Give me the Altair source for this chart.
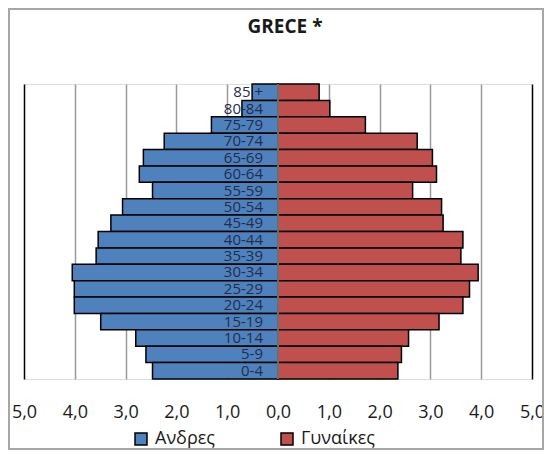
import altair as alt
import pandas as pd

ages = ["85 +", "80-84", "75-79", "70-74", "65-69", "60-64", "55-59", "50-54", "45-49",
        "40-44", "35-39", "30-34", "25-29", "20-24", "15-19", "10-14", "5-9", "0-4"]
male = [0.51, 0.71, 1.31, 2.24, 2.65, 2.73, 2.47, 3.06, 3.29,
        3.54, 3.58, 4.05, 4.01, 4.01, 3.49, 2.80, 2.60, 2.47]
female = [0.81, 1.02, 1.72, 2.74, 3.04, 3.12, 2.65, 3.22, 3.25,
          3.64, 3.60, 3.94, 3.77, 3.64, 3.17, 2.57, 2.43, 2.36]
sexes = ["Ανδρες", "Γυναίκες"]
colors = ["#4F81BD", "#C0504D"]
x_ticks = [-5, -4, -3, -2, -1, 0, 1, 2, 3, 4, 5]
title_text = "GRECE *"

rows = []
for a, m, f in zip(ages, male, female):
    rows.append({"age": a, "sex": sexes[0], "value": m, "signed": -m})
    rows.append({"age": a, "sex": sexes[1], "value": f, "signed": f})
df = pd.DataFrame(rows)
age_df = pd.DataFrame({"age": ages})
zero_df = pd.DataFrame({"v": [0]})
title_df = pd.DataFrame({"t": [title_text]})

FONT = "Open Sans"

xscale = alt.Scale(domain=[-5, 5], nice=False)
yscale = alt.Scale(domain=ages, paddingInner=0, paddingOuter=0)

bars = alt.Chart(df).mark_bar(stroke="black", strokeWidth=1.5).encode(
    x=alt.X("signed:Q", scale=xscale,
            axis=alt.Axis(values=x_ticks, title=None, domain=False, ticks=False, tickSize=0,
                          labelPadding=24, labelFlush=False, labelFont=FONT, labelFontSize=18,
                          labelColor="#1a1a1a", grid=True, gridWidth=1.5,
                          gridColor=alt.condition("abs(datum.value) == 5",
                                                  alt.value("black"), alt.value("#9a9a9a")),
                          labelExpr="replace(format(abs(datum.value), '.1f'), '.', ',')")),
    y=alt.Y("age:N", scale=yscale, sort=ages, axis=None),
    color=alt.Color("sex:N", scale=alt.Scale(domain=sexes, range=colors),
                    legend=alt.Legend(title=None, orient="none", legendX=108, legendY=346,
                                      direction="horizontal", symbolType="square", symbolSize=144,
                                      symbolStrokeColor="black", symbolStrokeWidth=1.5,
                                      labelFont=FONT, labelFontSize=18, labelColor="#1a1a1a",
                                      labelOffset=5, columnPadding=62, padding=0)),
)

center = alt.Chart(zero_df).mark_rule(color="#8c8c8c", strokeWidth=1.5).encode(
    x=alt.X("v:Q", scale=xscale)
)

labels = alt.Chart(age_df).mark_text(align="right", baseline="middle", dx=-15,
                                      font=FONT, fontSize=15, color="#1F2D4F").encode(
    x=alt.datum(0),
    y=alt.Y("age:N", scale=yscale, sort=ages),
    text="age:N",
)

title = alt.Chart(title_df).mark_text(font=FONT, fontSize=19, fontWeight="bold", color="#1a1a1a",
                                      align="center", baseline="middle").encode(
    x=alt.value(261), y=alt.value(-57), text="t:N"
)

frame = alt.Chart(zero_df).mark_rect(fill="transparent", stroke="#a6a6a6", strokeWidth=2).encode(
    x=alt.value(-15), x2=alt.value(519), y=alt.value(-75), y2=alt.value(365)
)

chart = alt.layer(frame, bars, center, labels, title).properties(
    width=508,
    height=295,
    padding={"left": 16, "top": 76, "right": 12, "bottom": 71},
    autosize=alt.AutoSizeParams(type="none"),
).configure_view(stroke="black", strokeWidth=1.5).configure(background="white")

chart.save("out.html", embed_options={"renderer": "svg", "actions": False})
